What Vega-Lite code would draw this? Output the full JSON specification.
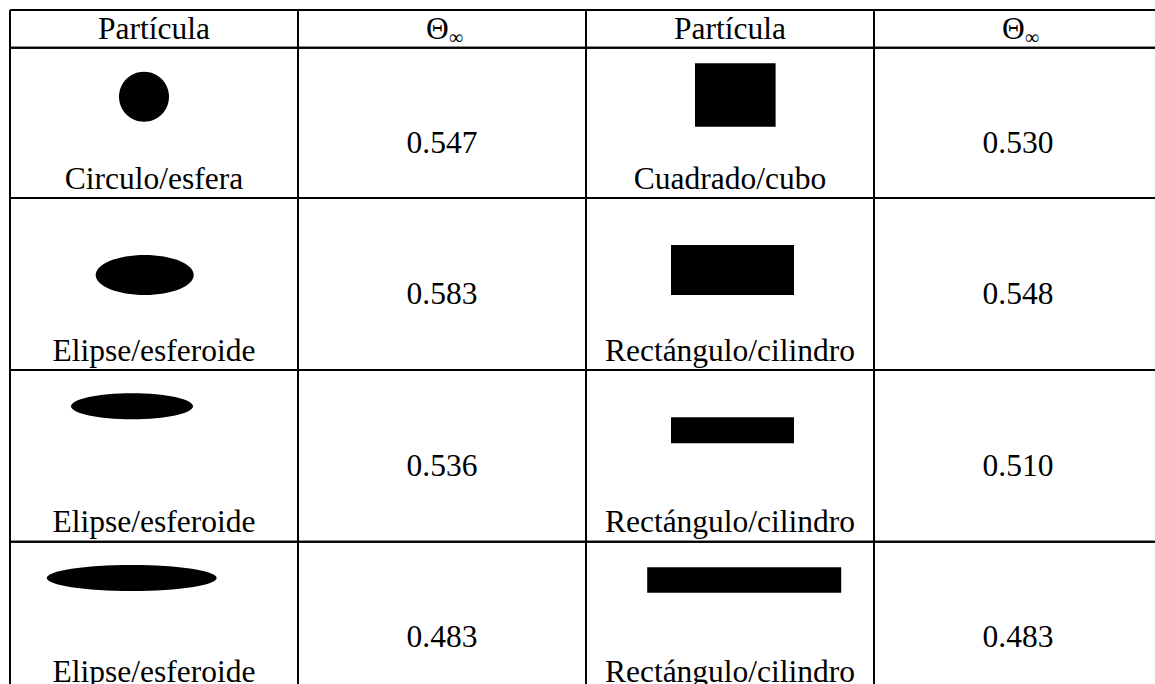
{
  "$schema": "https://vega.github.io/schema/vega-lite/v6.json",
  "width": 1145,
  "height": 674,
  "autosize": {"type": "none"},
  "padding": {"left": 10, "top": 10, "right": 0, "bottom": 0},
  "background": "white",
  "config": {
    "view": {"stroke": null},
    "text": {"font": "Times New Roman, Liberation Serif, Times, DejaVu Serif, serif", "fontSize": 31.5, "color": "black"}
  },
  "datasets": {
    "encabezado": [
      {"fila": 0, "columna": "A", "titulo": "Partícula"},
      {"fila": 0, "columna": "B", "titulo": "Θ", "subindice": "∞"},
      {"fila": 0, "columna": "C", "titulo": "Partícula"},
      {"fila": 0, "columna": "D", "titulo": "Θ", "subindice": "∞"}
    ],
    "particulas": [
      {"fila": 1, "columna": "A", "columna_theta": "B", "particula": "Circulo/esfera", "forma": "círculo", "theta": 0.547},
      {"fila": 1, "columna": "C", "columna_theta": "D", "particula": "Cuadrado/cubo", "forma": "cuadrado", "theta": 0.530},
      {"fila": 2, "columna": "A", "columna_theta": "B", "particula": "Elipse/esferoide", "forma": "elipse 1", "theta": 0.583},
      {"fila": 2, "columna": "C", "columna_theta": "D", "particula": "Rectángulo/cilindro", "forma": "rectángulo 1", "theta": 0.548},
      {"fila": 3, "columna": "A", "columna_theta": "B", "particula": "Elipse/esferoide", "forma": "elipse 2", "theta": 0.536},
      {"fila": 3, "columna": "C", "columna_theta": "D", "particula": "Rectángulo/cilindro", "forma": "rectángulo 2", "theta": 0.510},
      {"fila": 4, "columna": "A", "columna_theta": "B", "particula": "Elipse/esferoide", "forma": "elipse 3", "theta": 0.483},
      {"fila": 4, "columna": "C", "columna_theta": "D", "particula": "Rectángulo/cilindro", "forma": "rectángulo 3", "theta": 0.483}
    ]
  },
  "resolve": {"scale": {"y": "independent"}},
  "layer": [
    {
      "layer": [
        {
          "data": {"name": "encabezado"},
          "mark": {"type": "rule", "strokeWidth": 2, "color": "black"},
          "encoding": {
            "x": {"field": "columna", "type": "nominal", "bandPosition": 0, "axis": null,
                  "scale": {"type": "band", "domain": ["A", "B", "C", "D"], "range": [0, 1152], "paddingInner": 0, "paddingOuter": 0}}
          }
        },
        {
          "data": {"name": "encabezado"},
          "mark": {"type": "rule", "strokeWidth": 2, "color": "black"},
          "encoding": {
            "y": {"field": "fila", "type": "quantitative", "axis": null,
                  "scale": {"type": "linear", "domain": [0, 1, 2, 3, 4, 5], "range": [0, 37.7, 188, 360, 531.7, 681], "zero": false, "nice": false}}
          }
        },
        {
          "data": {"name": "particulas"},
          "mark": {"type": "rule", "strokeWidth": 2, "color": "black"},
          "encoding": {
            "y": {"field": "fila", "type": "quantitative", "axis": null}
          }
        },
        {
          "data": {"name": "encabezado"},
          "transform": [{"filter": "!isValid(datum.subindice)"}],
          "mark": {"type": "text", "baseline": "alphabetic", "align": "center", "dy": 29.3},
          "encoding": {
            "x": {"field": "columna", "type": "nominal", "axis": null},
            "y": {"field": "fila", "type": "quantitative", "axis": null},
            "text": {"field": "titulo"}
          }
        },
        {
          "data": {"name": "encabezado"},
          "transform": [{"filter": "isValid(datum.subindice)"}],
          "mark": {"type": "text", "baseline": "alphabetic", "align": "right", "dx": 6.8, "dy": 29.3},
          "encoding": {
            "x": {"field": "columna", "type": "nominal", "axis": null},
            "y": {"field": "fila", "type": "quantitative", "axis": null},
            "text": {"field": "titulo"}
          }
        },
        {
          "data": {"name": "encabezado"},
          "transform": [{"filter": "isValid(datum.subindice)"}],
          "mark": {"type": "text", "fontSize": 20, "baseline": "alphabetic", "align": "left", "dx": 6.8, "dy": 34},
          "encoding": {
            "x": {"field": "columna", "type": "nominal", "axis": null},
            "y": {"field": "fila", "type": "quantitative", "axis": null},
            "text": {"field": "subindice"}
          }
        },
        {
          "data": {"name": "particulas"},
          "mark": {"type": "point", "filled": true, "opacity": 1, "color": "black", "strokeWidth": 0, "size": 4},
          "encoding": {
            "x": {"field": "columna", "type": "nominal", "axis": null},
            "y": {"field": "fila", "type": "quantitative", "axis": null},
            "shape": {
              "field": "forma", "type": "nominal", "legend": null,
              "scale": {
                "domain": ["círculo", "elipse 1", "elipse 2", "elipse 3", "cuadrado", "rectángulo 1", "rectángulo 2", "rectángulo 3"],
                "range": [
                  "M-35,49C-35,35.19,-23.81,24,-10,24C3.81,24,15,35.19,15,49C15,62.81,3.81,74,-10,74C-23.81,74,-35,62.81,-35,49Z",
                  "M-58.3,77C-58.3,65.95,-36.36,57,-9.3,57C17.76,57,39.7,65.95,39.7,77C39.7,88.05,17.76,97,-9.3,97C-36.36,97,-58.3,88.05,-58.3,77Z",
                  "M-83,36.3C-83,29.12,-55.69,23.3,-22,23.3C11.69,23.3,39,29.12,39,36.3C39,43.48,11.69,49.3,-22,49.3C-55.69,49.3,-83,43.48,-83,36.3Z",
                  "M-107.3,36.3C-107.3,29.12,-69.25,23.3,-22.3,23.3C24.65,23.3,62.7,29.12,62.7,36.3C62.7,43.48,24.65,49.3,-22.3,49.3C-69.25,49.3,-107.3,43.48,-107.3,36.3Z",
                  "M-35,15.6L45.6,15.6L45.6,79L-35,79Z",
                  "M-59,47L64,47L64,97L-59,97Z",
                  "M-59,47.3L64,47.3L64,73.3L-59,73.3Z",
                  "M-82.8,25.6L111.2,25.6L111.2,51L-82.8,51Z"
                ]
              }
            }
          }
        },
        {
          "data": {"name": "particulas"},
          "mark": {"type": "text", "baseline": "alphabetic", "align": "center", "dy": 105.5},
          "encoding": {
            "x": {"field": "columna_theta", "type": "nominal", "axis": null},
            "y": {"field": "fila", "type": "quantitative", "axis": null},
            "text": {"field": "theta", "type": "quantitative", "format": ".3f"}
          }
        }
      ]
    },
    {
      "data": {"name": "particulas"},
      "mark": {"type": "text", "baseline": "alphabetic", "align": "center", "dy": -9.5},
      "encoding": {
        "x": {"field": "columna", "type": "nominal", "axis": null},
        "y": {"field": "fila", "type": "quantitative", "axis": null,
              "scale": {"type": "linear", "domain": [1, 2, 3, 4], "range": [188, 360, 531.7, 681], "zero": false, "nice": false}},
        "text": {"field": "particula"}
      }
    }
  ]
}
